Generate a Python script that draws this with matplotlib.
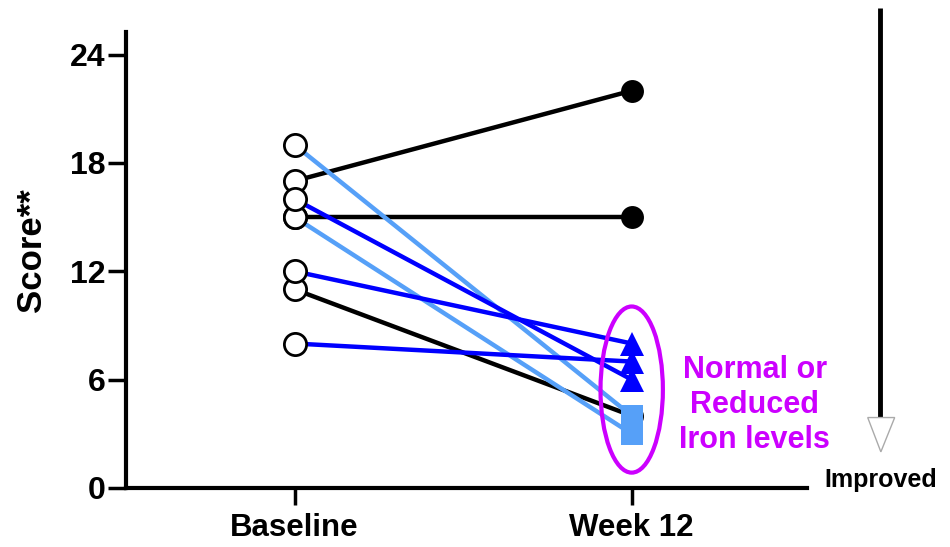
import matplotlib
matplotlib.use('Agg')
import matplotlib.pyplot as plt
from matplotlib.patches import Ellipse, Polygon

plt.rcParams['font.family'] = ['Liberation Sans', 'DejaVu Sans']
plt.rcParams['font.weight'] = 'bold'

# x positions of the two visits
visits = ['Baseline', 'Week 12']
visit_x = [1, 2]

# score per subject at baseline and week 12, grouped by outcome
black_base = [17, 15, 11]
black_wk12 = [22, 15, 4]
blue_base = [16, 12, 8]
blue_wk12 = [6, 8, 7]
lblue_base = [19, 15]
lblue_wk12 = [4, 3]

yticks = [0, 6, 12, 18, 24]

c_black = 'black'
c_blue = '#0000FF'
c_lblue = '#56A0F8'
c_mag = '#CC00FF'

fig = plt.figure(figsize=(9.5, 5.47), dpi=100)
ax = fig.add_axes([0.1326, 0.1079, 0.7169, 0.8336])

groups = [
    (black_base, black_wk12, c_black, 'o', 16.5),
    (lblue_base, lblue_wk12, c_lblue, 's', 16.5),
    (blue_base, blue_wk12, c_blue, '^', 17),
]

for base, wk, col, mk, ms in groups:
    for b, w in zip(base, wk):
        ax.plot(visit_x, [b, w], color=col, lw=3.2, zorder=2, solid_capstyle='butt')

for base, wk, col, mk, ms in groups:
    ax.plot([visit_x[0]] * len(base), base, 'o', ms=16, mfc='white', mec='black',
            mew=2, zorder=4, linestyle='none')
    ax.plot([visit_x[1]] * len(wk), wk, mk, ms=ms, mfc=col, mec=col, mew=0,
            zorder=4, linestyle='none')

# highlight the normal / reduced iron group
ell = Ellipse((2.0, 5.45), 0.185, 9.2, fill=False, edgecolor=c_mag, lw=3, zorder=5,
              clip_on=False)
ax.add_patch(ell)
ax.text(2.365, 4.6, 'Normal or\nReduced\nIron levels', color=c_mag, fontsize=22,
        fontweight='bold', ha='center', va='center', linespacing=1.2)

# "improved" arrow on the right
ax.plot([2.736, 2.736], [26.6, 3.9], color='black', lw=3.5, clip_on=False,
        solid_capstyle='butt')
head = Polygon([[2.700, 3.9], [2.780, 3.9], [2.739, 2.0]], closed=True,
               facecolor='white', edgecolor='#AAAAAA', lw=1, clip_on=False, zorder=5)
ax.add_patch(head)
ax.text(2.739, 0.05, 'Improved', fontsize=18, fontweight='bold', ha='center',
        va='baseline')

ax.set_xlim(0.5, 2.52)
ax.set_ylim(0, 25.25)
ax.set_xticks(visit_x)
ax.set_xticklabels(visits, fontsize=22.5, fontweight='bold')
ax.set_yticks(yticks)
ax.set_yticklabels([str(t) for t in yticks], fontsize=23, fontweight='bold')
ax.tick_params(axis='y', direction='out', length=13, width=2.5, pad=2)
ax.tick_params(axis='x', direction='out', length=12, width=2.5, pad=6)

for s in ['top', 'right']:
    ax.spines[s].set_visible(False)
for s in ['left', 'bottom']:
    ax.spines[s].set_linewidth(3)

ax.set_ylabel('Score**', fontsize=25, fontweight='bold')
ax.yaxis.set_label_coords(-0.114, 0.522)

fig.savefig('out.png', dpi=100)
